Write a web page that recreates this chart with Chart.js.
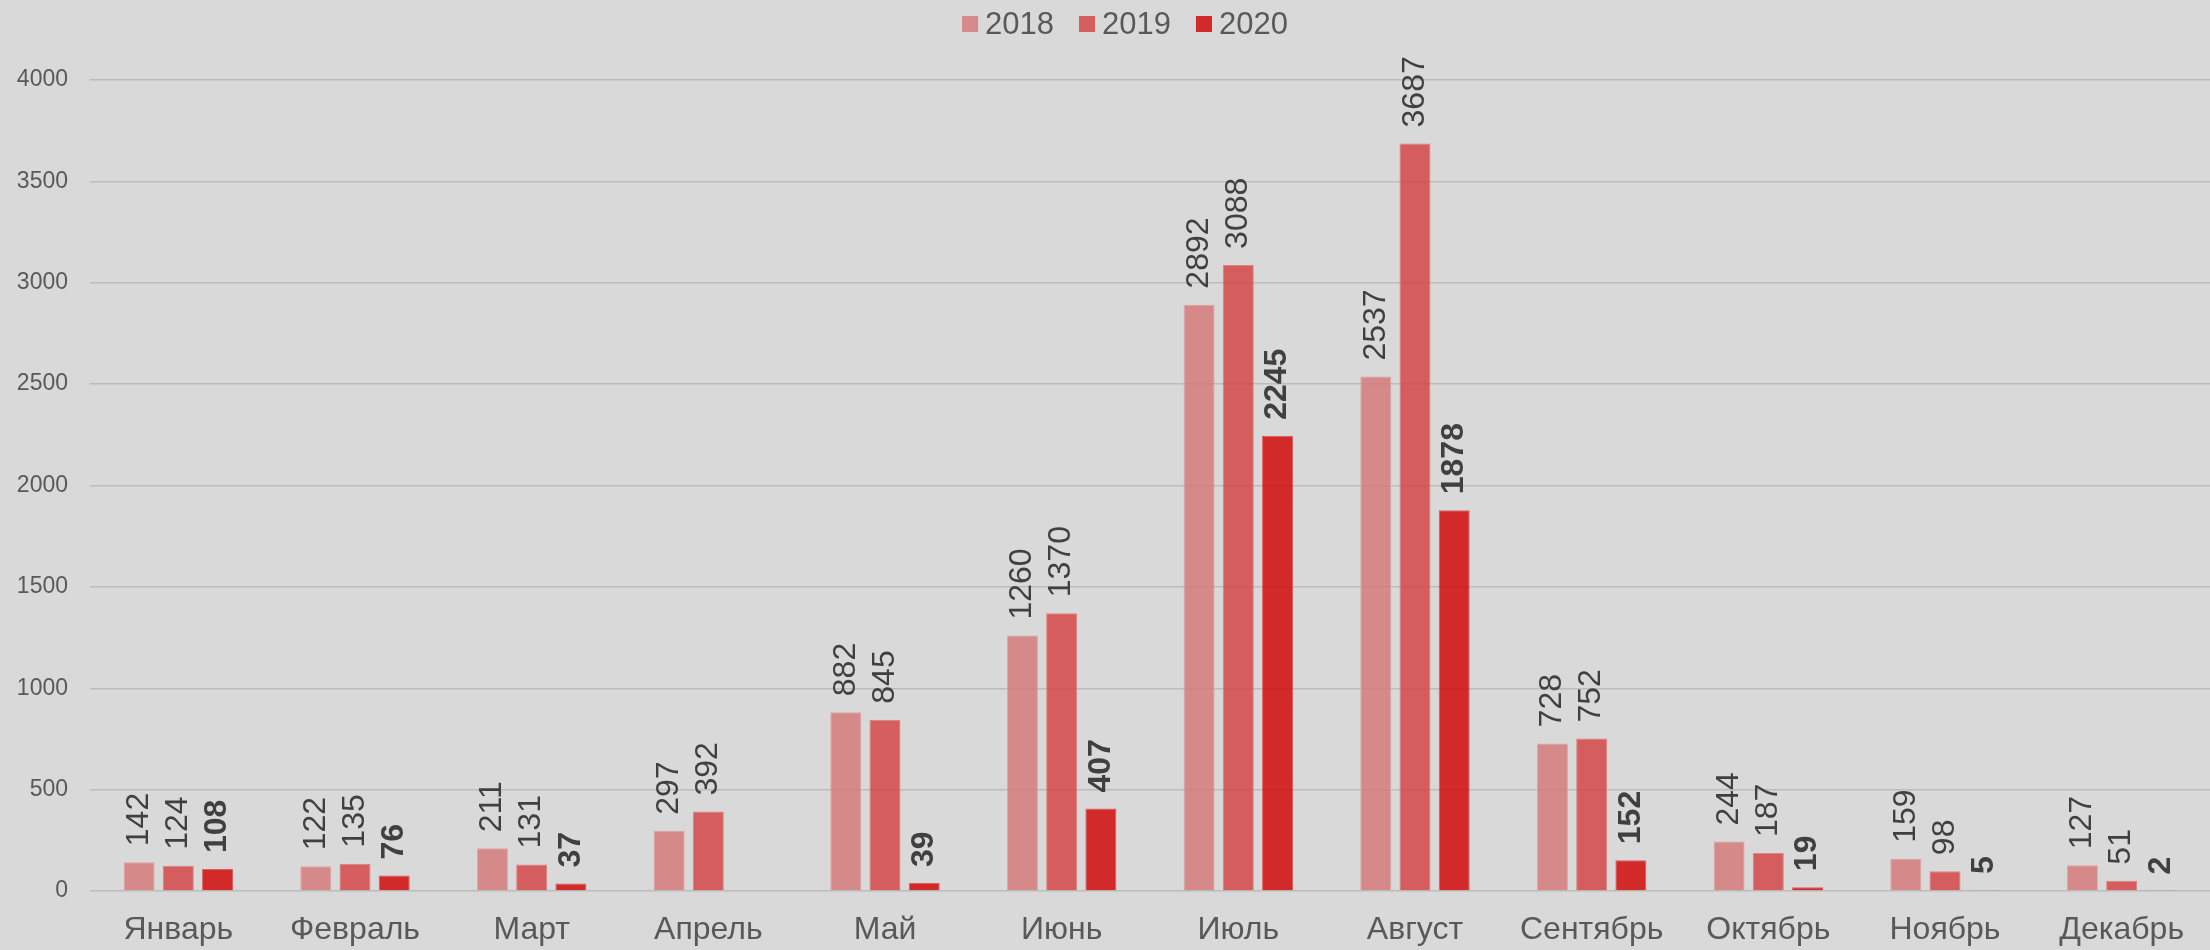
<!DOCTYPE html>
<html>
<head>
<meta charset="utf-8">
<title>2018-2020</title>
<script src="https://cdn.jsdelivr.net/npm/chart.js@4"></script>
<style>
  html, body { margin: 0; padding: 0; background: #d9d9d9; }
  #wrap { width: 2210px; height: 950px; }
</style>
</head>
<body>
<div id="wrap"><canvas id="chart" width="2210" height="950"></canvas></div>
<script>
// === DATA ===
const months = ["Январь", "Февраль", "Март", "Апрель", "Май", "Июнь", "Июль", "Август", "Сентябрь", "Октябрь", "Ноябрь", "Декабрь"];
const years = ["2018", "2019", "2020"];
const values2018 = [142, 122, 211, 297, 882, 1260, 2892, 2537, 728, 244, 159, 127];
const values2019 = [124, 135, 131, 392, 845, 1370, 3088, 3687, 752, 187, 98, 51];
const values2020 = [108, 76, 37, null, 39, 407, 2245, 1878, 152, 19, 5, 2];
const yTicks = [0, 500, 1000, 1500, 2000, 2500, 3000, 3500, 4000];

const fontFamily = "'Liberation Sans', Arial, sans-serif";

// plain grey background behind everything
const bgPlugin = {
    id: "bg",
    beforeDraw(chart) {
        const ctx = chart.ctx;
        ctx.save();
        ctx.fillStyle = "#d9d9d9";
        ctx.fillRect(0, 0, chart.width, chart.height);
        ctx.restore();
    }
};

// legend drawn by hand: small square, tight gap, then the year
const topLegend = {
    id: "topLegend",
    afterDraw(chart) {
        const ctx = chart.ctx;
        const box = 16, gap = 7, itemGap = 25, centerX = 1125, midY = 24;
        ctx.save();
        ctx.font = "31px " + fontFamily;
        const items = chart.data.datasets.map(ds => ({
            text: ds.label,
            color: ds.legendColor,
            w: ctx.measureText(ds.label).width
        }));
        const total = items.reduce((s, it) => s + box + gap + it.w, 0) + itemGap * (items.length - 1);
        let x = centerX - total / 2;
        items.forEach(it => {
            ctx.fillStyle = it.color;
            ctx.fillRect(x, midY - box / 2, box, box);
            x += box + gap;
            ctx.fillStyle = "#595959";
            ctx.textAlign = "left";
            ctx.textBaseline = "middle";
            ctx.fillText(it.text, x, midY + 1);
            x += it.w + itemGap;
        });
        ctx.restore();
    }
};

// rotated value labels above each bar
const valueLabels = {
    id: "valueLabels",
    afterDatasetsDraw(chart) {
        const ctx = chart.ctx;
        chart.data.datasets.forEach((ds, i) => {
            const meta = chart.getDatasetMeta(i);
            meta.data.forEach((bar, j) => {
                const v = ds.data[j];
                if (v === null || v === undefined) return;
                ctx.save();
                ctx.translate(bar.x, bar.y - 16);
                ctx.rotate(-Math.PI / 2);
                ctx.font = (i === 2 ? "bold " : "") + "32px " + fontFamily;
                ctx.fillStyle = "#404040";
                ctx.textAlign = "left";
                ctx.textBaseline = "middle";
                ctx.fillText(String(v), 0, 0);
                ctx.restore();
            });
        });
    }
};

new Chart(document.getElementById("chart").getContext("2d"), {
    type: "bar",
    data: {
        labels: months,
        datasets: [
            { label: years[0], data: values2018, backgroundColor: "rgba(213,122,122,0.85)", borderColor: "rgba(226,160,160,0.9)", borderWidth: 1, legendColor: "#d68a8a" },
            { label: years[1], data: values2019, backgroundColor: "rgba(211,71,71,0.85)", borderColor: "rgba(224,120,120,0.9)", borderWidth: 1, legendColor: "#d45d5d" },
            { label: years[2], data: values2020, backgroundColor: "rgba(208,9,9,0.85)", borderColor: "rgba(220,80,80,0.9)", borderWidth: 1, legendColor: "#d12a2a" }
        ]
    },
    options: {
        responsive: false,
        animation: false,
        categoryPercentage: 0.666,
        barPercentage: 0.79,
        layout: { padding: { left: 14, right: -4, top: 80, bottom: 0 } },
        plugins: {
            legend: { display: false },
            tooltip: { enabled: false }
        },
        scales: {
            x: {
                grid: { display: false, drawTicks: false },
                border: { display: false },
                ticks: {
                    color: "#595959",
                    padding: 20,
                    font: { family: fontFamily, size: 32, lineHeight: 1.2 }
                },
                afterFit(scale) {
                    scale.height = 59;
                }
            },
            y: {
                min: 0,
                max: 4000,
                afterBuildTicks(scale) {
                    scale.ticks = yTicks.map(v => ({ value: v }));
                },
                grid: { color: "#bcbcbc", lineWidth: 1.5, drawTicks: false },
                border: { display: false },
                ticks: {
                    color: "#595959",
                    padding: 22,
                    font: { family: fontFamily, size: 23 },
                    callback: (value) => String(value)
                },
                afterFit(scale) {
                    scale.width = 76;
                }
            }
        }
    },
    plugins: [bgPlugin, topLegend, valueLabels]
});
</script>
</body>
</html>
